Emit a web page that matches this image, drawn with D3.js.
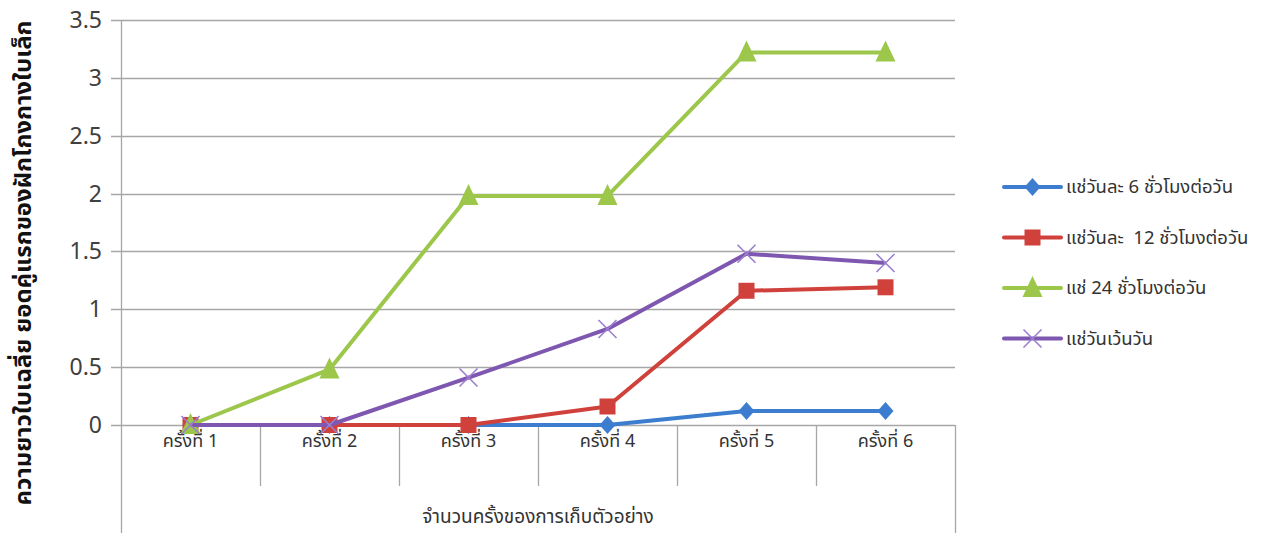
<!DOCTYPE html>
<html>
<head>
<meta charset="utf-8">
<script src="https://cdn.jsdelivr.net/npm/d3@7"></script>
<style>
  body { margin: 0; background: #fff; }
  svg { font-family: "Noto Sans Thai", "Tahoma", "DejaVu Sans", "Noto Sans", sans-serif; }
</style>
</head>
<body>
<svg id="chart" width="1270" height="533"></svg>
<script>
var categories = ["ครั้งที่ 1", "ครั้งที่ 2", "ครั้งที่ 3", "ครั้งที่ 4", "ครั้งที่ 5", "ครั้งที่ 6"]
var seriesNames = ["แช่วันละ 6 ชั่วโมงต่อวัน", "แช่วันละ  12 ชั่วโมงต่อวัน", "แช่ 24 ชั่วโมงต่อวัน", "แช่วันเว้นวัน"]
var sixHours = [0, 0, 0, 0, 0.12, 0.12]
var twelveHours = [0, 0, 0, 0.16, 1.16, 1.19]
var allDay = [0, 0.48, 1.98, 1.98, 3.22, 3.22]
var everyOtherDay = [0, 0, 0.41, 0.83, 1.48, 1.40]
var yTicks = [0, 0.5, 1, 1.5, 2, 2.5, 3, 3.5]
var yTitle = "ความยาวใบเฉลี่ย ยอดคู่แรกของฝักโกงกางใบเล็ก"
var xTitle = "จำนวนครั้งของการเก็บตัวอย่าง"

var colors = ["#3c7dd0", "#d0413c", "#9cc74b", "#7e57b0"]
var symbols = ["diamond", "square", "triangle", "cross"]
var seriesData = [sixHours, twelveHours, allDay, everyOtherDay]

var svg = d3.select("#chart")
var plotLeft = 121, plotRight = 955, plotTop = 20, plotBottom = 425

var x = d3.scaleBand().domain(categories).range([plotLeft, plotRight])
var y = d3.scaleLinear().domain([0, 3.5]).range([plotBottom, plotTop])

// gridlines
svg.append("g")
  .selectAll("line")
  .data(yTicks)
  .enter()
  .append("line")
  .attr("x1", plotLeft - 10)
  .attr("x2", plotRight)
  .attr("y1", (d) => Math.round(y(d)) + 0.5)
  .attr("y2", (d) => Math.round(y(d)) + 0.5)
  .attr("stroke", "#a6a6a6")
  .attr("stroke-width", 1.3)

// y tick labels
svg.append("g")
  .selectAll("text")
  .data(yTicks)
  .enter()
  .append("text")
  .attr("x", 102)
  .attr("y", (d) => y(d) + 8)
  .attr("text-anchor", "end")
  .attr("font-size", 23)
  .attr("fill", "#404040")
  .text((d) => d)

// axis box lines
svg.append("line")
  .attr("x1", plotLeft + 0.5).attr("x2", plotLeft + 0.5)
  .attr("y1", plotTop).attr("y2", 533)
  .attr("stroke", "#a6a6a6").attr("stroke-width", 1.3)
svg.append("line")
  .attr("x1", plotRight + 0.5).attr("x2", plotRight + 0.5)
  .attr("y1", plotBottom).attr("y2", 533)
  .attr("stroke", "#a6a6a6").attr("stroke-width", 1.3)

// category separators
svg.append("g")
  .selectAll("line")
  .data(categories.slice(1))
  .enter()
  .append("line")
  .attr("x1", (d) => Math.round(x(d)) + 0.5)
  .attr("x2", (d) => Math.round(x(d)) + 0.5)
  .attr("y1", plotBottom)
  .attr("y2", 486)
  .attr("stroke", "#a6a6a6")
  .attr("stroke-width", 1.3)

// category labels
svg.append("g")
  .selectAll("text")
  .data(categories)
  .enter()
  .append("text")
  .attr("x", (d) => x(d) + x.bandwidth() / 2)
  .attr("y", 447)
  .attr("text-anchor", "middle")
  .attr("font-size", 18)
  .attr("fill", "#333")
  .text((d) => d)

// axis titles
svg.append("text")
  .attr("x", (plotLeft + plotRight) / 2)
  .attr("y", 523)
  .attr("text-anchor", "middle")
  .attr("font-size", 19)
  .attr("fill", "#333")
  .text(xTitle)

svg.append("text")
  .attr("transform", "translate(31,263) rotate(-90)")
  .attr("text-anchor", "middle")
  .attr("font-size", 23)
  .attr("font-weight", "bold")
  .attr("fill", "#111")
  .attr("textLength", 485)
  .attr("lengthAdjust", "spacingAndGlyphs")
  .text(yTitle)

function drawMarker(g, kind, color, cx, cy) {
  if (kind == "diamond") {
    g.append("path")
      .attr("d", `M${cx},${cy - 9}L${cx + 8},${cy}L${cx},${cy + 9}L${cx - 8},${cy}Z`)
      .attr("fill", color)
  } else if (kind == "square") {
    g.append("rect")
      .attr("x", cx - 8).attr("y", cy - 8)
      .attr("width", 16).attr("height", 16)
      .attr("fill", color)
  } else if (kind == "triangle") {
    g.append("path")
      .attr("d", `M${cx},${cy - 12}L${cx + 10},${cy + 9}L${cx - 10},${cy + 9}Z`)
      .attr("fill", color)
  } else {
    g.append("path")
      .attr("d", `M${cx - 9},${cy - 9}L${cx + 9},${cy + 9}M${cx + 9},${cy - 9}L${cx - 9},${cy + 9}`)
      .attr("stroke", color)
      .attr("stroke-width", 1.6)
      .attr("fill", "none")
  }
}

var line = d3.line()
  .x((d, i) => x(categories[i]) + x.bandwidth() / 2)
  .y((d) => y(d))

seriesData.forEach(function(values, s) {
  var g = svg.append("g")
  g.append("path")
    .datum(values)
    .attr("d", line)
    .attr("fill", "none")
    .attr("stroke", colors[s])
    .attr("stroke-width", 4)
    .attr("stroke-linejoin", "round")
  values.forEach(function(v, i) {
    drawMarker(g, symbols[s], s == 3 ? "#9b7fd0" : colors[s], x(categories[i]) + x.bandwidth() / 2, y(v))
  })
})

// legend
var legend = svg.append("g")
seriesNames.forEach(function(name, s) {
  var ly = 187 + s * 50.5
  legend.append("line")
    .attr("x1", 1004).attr("x2", 1061)
    .attr("y1", ly).attr("y2", ly)
    .attr("stroke", colors[s])
    .attr("stroke-width", 4)
    .attr("stroke-linecap", "round")
  drawMarker(legend, symbols[s], s == 3 ? "#9b7fd0" : colors[s], 1032.5, ly)
  legend.append("text")
    .attr("x", 1066)
    .attr("y", ly + 6)
    .attr("font-size", 18.5)
    .attr("fill", "#333")
    .style("white-space", "pre")
    .text(name)
})
</script>
</body>
</html>
